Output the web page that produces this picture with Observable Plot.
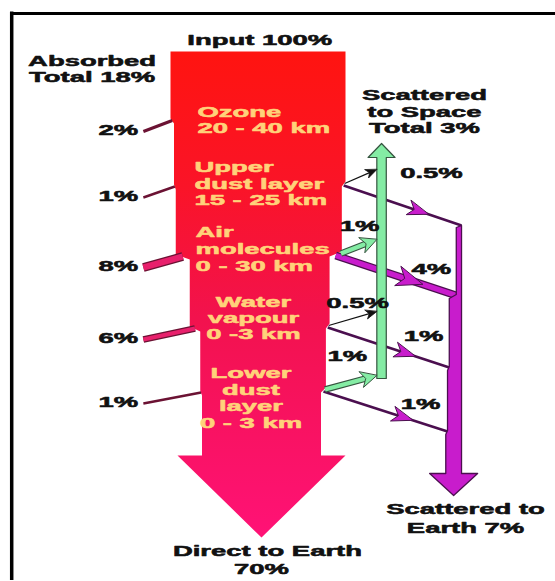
<!DOCTYPE html>
<html><head><meta charset="utf-8">
<script src="https://cdn.jsdelivr.net/npm/d3@7"></script>
<script src="https://cdn.jsdelivr.net/npm/@observablehq/plot@0.6"></script>
<style>body{margin:0;background:#fff}</style>
</head><body><div id="chart"></div>
<script>
// ---------------- DATA ----------------
const layerNames = ["Ozone", "Upper dust layer", "Air molecules", "Water vapour", "Lower dust layer"];
const layerLines = [["Ozone", "20 - 40 km"], ["Upper", "dust layer", "15 - 25 km"], ["Air", "molecules", "0 - 30 km"], ["Water", "vapour", "0 -3 km"], ["Lower", "dust", "layer", "0 - 3 km"]];
const absorbed = [2, 1, 8, 6, 1];
const scatteredToSpace = [0, 0.5, 1, 0.5, 1];
const scatteredToEarth = [0, 1, 4, 1, 1];
const inputPct = 100;
const absorbedTotalPct = 18;
const spaceTotalPct = 3;
const earthTotalPct = 7;
const directPct = 70;

// ---------------- LAYOUT ----------------
const W = 555, H = 581;
const PX = 1.75;      // pixels per 1% of beam width
const X0 = 170;       // beam left edge in pixels
const toU = px => (px - X0) / PX;
const lay = {
  topY: 51, shaftEndY: 455, tipY: 537, headExt: 14,
  exitY: [120, 186, 256, 328, 392], rightDy: -3,
  absScale: 1, scatScale: 1.4,
  absBarEndX: -15.5, absBarDrop: 11, absLabelX: -18.5,
  greenX: 120.6, greenHalfW: 2.7, greenTopY: 157, greenTipY: 143, greenHeadHalf: 7.7, spaceRise: 14,
  purpleRightX: 166.3, purpleBaseW: 2, purpleWPerPct: 1.0, earthDrop: 42,
  purpleHeadY: 473, purpleTipY: 495, purpleHeadHalf: 13.7,
  layerText: [{x: 15.4, y: 112, lh: 16, a: "start"}, {x: 13.7, y: 167, lh: 16.5, a: "start"}, {x: 14.3, y: 232, lh: 17, a: "start"}, {x: 47.4, y: 302, lh: 16, a: "middle"}, {x: 46, y: 373, lh: 16.5, a: "middle"}],
  spaceLabel: [null, [149.1, 173], [108, 226], [106.9, 303], [101.1, 356]],
  earthLabel: [null, null, [149.1, 269], [144.6, 336], [142.9, 404]]
};
const C = {
  bar: "#6b1233", barFill: "#e8206c", purple: "#c81ccc", purpleDark: "#4b0f4f",
  green: "#84eca4", greenDark: "#35543f", inText: "#ffd27a", ink: "#111"
};

// ---------------- GEOMETRY ----------------
const nL = absorbed.length;
const Le = [0], Re = [inputPct];
for (let i = 0; i < nL; i++) {
  Le.push(Le[i] + absorbed[i] * lay.absScale);
  Re.push(Re[i] - (scatteredToSpace[i] + scatteredToEarth[i]) * lay.scatScale);
}
const exitY = lay.exitY;
const rExitY = exitY.map(y => y + lay.rightDy);

const shaft = [{x: Le[0], y: lay.topY}, {x: Re[0], y: lay.topY}];
for (let i = 0; i < nL; i++) if (Re[i + 1] !== Re[i]) shaft.push({x: Re[i], y: rExitY[i] - 2}, {x: Re[i + 1], y: rExitY[i] + 3});
const mid = (Le[nL] + Re[nL]) / 2;
shaft.push({x: Re[nL], y: lay.shaftEndY}, {x: Re[nL] + lay.headExt, y: lay.shaftEndY}, {x: mid, y: lay.tipY},
  {x: Le[nL] - lay.headExt, y: lay.shaftEndY}, {x: Le[nL], y: lay.shaftEndY});
for (let i = nL - 1; i >= 0; i--) if (absorbed[i] > 0) shaft.push({x: Le[i + 1], y: exitY[i] + 3}, {x: Le[i], y: exitY[i] - 2});

const bars = absorbed.map((v, i) => ({v, x1: (Le[i] + Le[i + 1]) / 2, y1: exitY[i], x2: lay.absBarEndX, y2: exitY[i] + lay.absBarDrop, t: 1.5 + 0.9 * v}));

// arrowhead polygon (tip at fraction along a segment), computed in pixel space
function head(x1, y1, x2, y2, frac, len, half) {
  const ax = X0 + x1 * PX, bx = X0 + x2 * PX;
  const dx = bx - ax, dy = y2 - y1, d = Math.hypot(dx, dy), ux = dx / d, uy = dy / d;
  const tx = ax + dx * frac, ty = y1 + dy * frac;
  const bxp = tx - ux * len, byp = ty - uy * len;
  const nx = tx - ux * len * 0.72, ny = ty - uy * len * 0.72;
  return [[tx, ty], [bxp - uy * half, byp + ux * half], [nx, ny], [bxp + uy * half, byp - ux * half]]
    .map(([px, py]) => ({x: toU(px), y: py}));
}
function backOff(f, len) { // segment end pulled back from tip by len px
  const ax = X0 + f.x1 * PX, bx = X0 + f.x2 * PX;
  const dx = bx - ax, dy = f.y2 - f.y1, d = Math.hypot(dx, dy);
  return {x1: f.x1, y1: f.y1, x2: toU(bx - dx / d * len), y2: f.y2 - dy / d * len};
}

// earth flows + purple column
const earthFlows = [];
let cumE = 0;
scatteredToEarth.forEach((v, i) => {
  if (!v) return;
  const wPrev = cumE ? lay.purpleBaseW + cumE * lay.purpleWPerPct : 0;
  cumE += v;
  earthFlows.push({i, v, x1: (Re[i] + Re[i + 1]) / 2, y1: rExitY[i] + 2, x2: lay.purpleRightX - wPrev, y2: rExitY[i] + lay.earthDrop,
    w: lay.purpleBaseW + cumE * lay.purpleWPerPct});
});
const PR = lay.purpleRightX, lastE = earthFlows[earthFlows.length - 1], pc = PR - lastE.w / 2;
const purpleCol = [{x: PR, y: earthFlows[0].y2}, {x: PR, y: lay.purpleHeadY}, {x: pc + lay.purpleHeadHalf, y: lay.purpleHeadY},
  {x: pc, y: lay.purpleTipY}, {x: pc - lay.purpleHeadHalf, y: lay.purpleHeadY}, {x: PR - lastE.w, y: lay.purpleHeadY}];
for (let j = earthFlows.length - 1; j >= 1; j--) purpleCol.push({x: PR - earthFlows[j].w, y: earthFlows[j].y2 + 3}, {x: PR - earthFlows[j - 1].w, y: earthFlows[j].y2 - 1});
purpleCol.push({x: PR - earthFlows[0].w, y: earthFlows[0].y2 + 2});

// space flows + green column
const spaceFlows = [];
scatteredToSpace.forEach((v, i) => {
  if (!v) return;
  spaceFlows.push({i, v, x1: Re[i] - 0.5, y1: rExitY[i], x2: lay.greenX - lay.greenHalfW, y2: rExitY[i] - lay.spaceRise});
});
const gB = spaceFlows[spaceFlows.length - 1].y2 + 3, gx = lay.greenX, ghw = lay.greenHalfW;
const greenCol = [{x: gx - ghw, y: gB}, {x: gx - ghw, y: lay.greenTopY}, {x: gx - lay.greenHeadHalf, y: lay.greenTopY}, {x: gx, y: lay.greenTipY},
  {x: gx + lay.greenHeadHalf, y: lay.greenTopY}, {x: gx + ghw, y: lay.greenTopY}, {x: gx + ghw, y: gB}];

// ---------------- MARKS ----------------
const poly = (pts, fill, stroke, sw = 1) => Plot.line(pts, {x: "x", y: "y", fill, stroke, strokeWidth: sw, curve: "linear-closed"});
const seg = (rows, stroke, sw) => Plot.link(rows, {x1: "x1", y1: "y1", x2: "x2", y2: "y2", stroke, strokeWidth: sw, strokeLinecap: "butt"});

const marks = [];
// frame
marks.push(Plot.ruleY([13], {x1: toU(10), x2: toU(W), stroke: "#000", strokeWidth: 3}));
marks.push(Plot.ruleX([toU(11.2)], {y1: 11.5, y2: 580, stroke: "#000", strokeWidth: 3.5}));
// beam
marks.push(poly(shaft, "url(#beamGrad)", "none", 0));
// absorbed bars
marks.push(seg(bars, C.bar, d => d.t));
marks.push(seg(bars.filter(b => b.v >= 4), C.barFill, d => d.t - 2.6));
// earth flows
earthFlows.forEach(f => {
  if (f.v >= 2) { marks.push(seg([f], C.purpleDark, 2.5 + f.v * 1.3)); marks.push(seg([f], C.purple, 0.6 + f.v * 1.2)); }
  else marks.push(seg([f], C.purpleDark, 2.6));
});
marks.push(poly(purpleCol, C.purple, C.purpleDark, 1.3));
earthFlows.forEach(f => {
  const big = f.v >= 2;
  marks.push(poly(head(f.x1, f.y1, f.x2, f.y2, 0.72, big ? 26 : 21, big ? 10 : 7.5), C.purple, C.purpleDark, 1));
});
// green column & space flows
marks.push(poly(greenCol, C.green, C.greenDark, 1.2));
spaceFlows.forEach(f => {
  if (f.v < 1) {
    marks.push(seg([backOff(f, 6)], C.ink, 1.3));
    marks.push(poly(head(f.x1, f.y1, f.x2, f.y2, 1, 11, 4.5), C.ink, C.ink, 0.8));
  } else {
    const s = backOff(f, 9);
    marks.push(seg([s], C.greenDark, 6.5));
    marks.push(seg([s], C.green, 4.3));
    marks.push(poly(head(f.x1, f.y1, f.x2, f.y2, 1, 16, 8), C.green, C.greenDark, 1));
  }
});

// texts
const texts = [];
function addLines(lines, x, y0, lh, anchor, fill) { lines.forEach((t, k) => texts.push({text: t, x, y: y0 + k * lh, anchor, fill})); }
addLines([`Input ${inputPct}%`], 51, 40, 0, "middle", C.ink);
addLines(["Absorbed", `Total ${absorbedTotalPct}%`], -44.8, 61, 16, "middle", C.ink);
layerLines.forEach((lines, i) => { const p = lay.layerText[i]; addLines(lines, p.x, p.y, p.lh, p.a, C.inText); });
absorbed.forEach((v, i) => addLines([`${v}%`], lay.absLabelX, exitY[i] + lay.absBarDrop - 1, 0, "end", C.ink));
scatteredToSpace.forEach((v, i) => { const p = lay.spaceLabel[i]; if (v && p) addLines([`${v}%`], p[0], p[1], 0, "middle", C.ink); });
scatteredToEarth.forEach((v, i) => { const p = lay.earthLabel[i]; if (v && p) addLines([`${v}%`], p[0], p[1], 0, "middle", C.ink); });
addLines(["Scattered", "to Space", `Total ${spaceTotalPct}%`], 145.1, 95, 16.3, "middle", C.ink);
addLines(["Scattered to", `Earth ${earthTotalPct}%`], 168.6, 509, 19, "middle", C.ink);
addLines(["Direct to Earth"], 55.4, 551, 0, "middle", C.ink);
addLines([`${directPct}%`], 52, 569, 0, "middle", C.ink);

for (const a of ["start", "middle", "end"]) for (const f of [C.ink, C.inText]) {
  const rows = texts.filter(t => t.anchor === a && t.fill === f);
  if (rows.length) marks.push(Plot.text(rows, {x: "x", y: "y", text: "text", textAnchor: a, fill: f, stroke: f, strokeWidth: 0.55,
    fontSize: 15, fontWeight: "bold", fontFamily: "Liberation Sans, Arial, sans-serif"}));
}

const chart = Plot.plot({
  width: W, height: H, margin: 0,
  x: {domain: [toU(0), toU(W)], range: [0, W], axis: null},
  y: {domain: [0, H], range: [0, H], axis: null},
  style: {background: "white", overflow: "visible"},
  marks
});
document.getElementById("chart").append(chart);

// gradient for the beam
const svg = chart.tagName.toLowerCase() === "svg" ? chart : chart.querySelector("svg");
const defs = d3.create("svg:defs");
const lg = defs.append("linearGradient").attr("id", "beamGrad").attr("x1", 0).attr("y1", 0).attr("x2", 0).attr("y2", 1);
[[0, "#ff1410"], [0.28, "#fa1428"], [0.55, "#f2124e"], [1, "#ff1276"]].forEach(([o, c]) => lg.append("stop").attr("offset", o).attr("stop-color", c));
svg.insertBefore(defs.node(), svg.firstChild);

// the reference lettering is horizontally extended
const SX = 1.83;
svg.querySelectorAll("text").forEach(t => {
  const tr = t.getAttribute("transform");
  if (tr) t.setAttribute("transform", tr + ` scale(${SX},1)`);
  else {
    const x = +t.getAttribute("x") || 0, y = +t.getAttribute("y") || 0;
    t.setAttribute("transform", `translate(${x},${y}) scale(${SX},1)`);
    t.setAttribute("x", 0); t.setAttribute("y", 0);
  }
});
</script>
</body></html>
